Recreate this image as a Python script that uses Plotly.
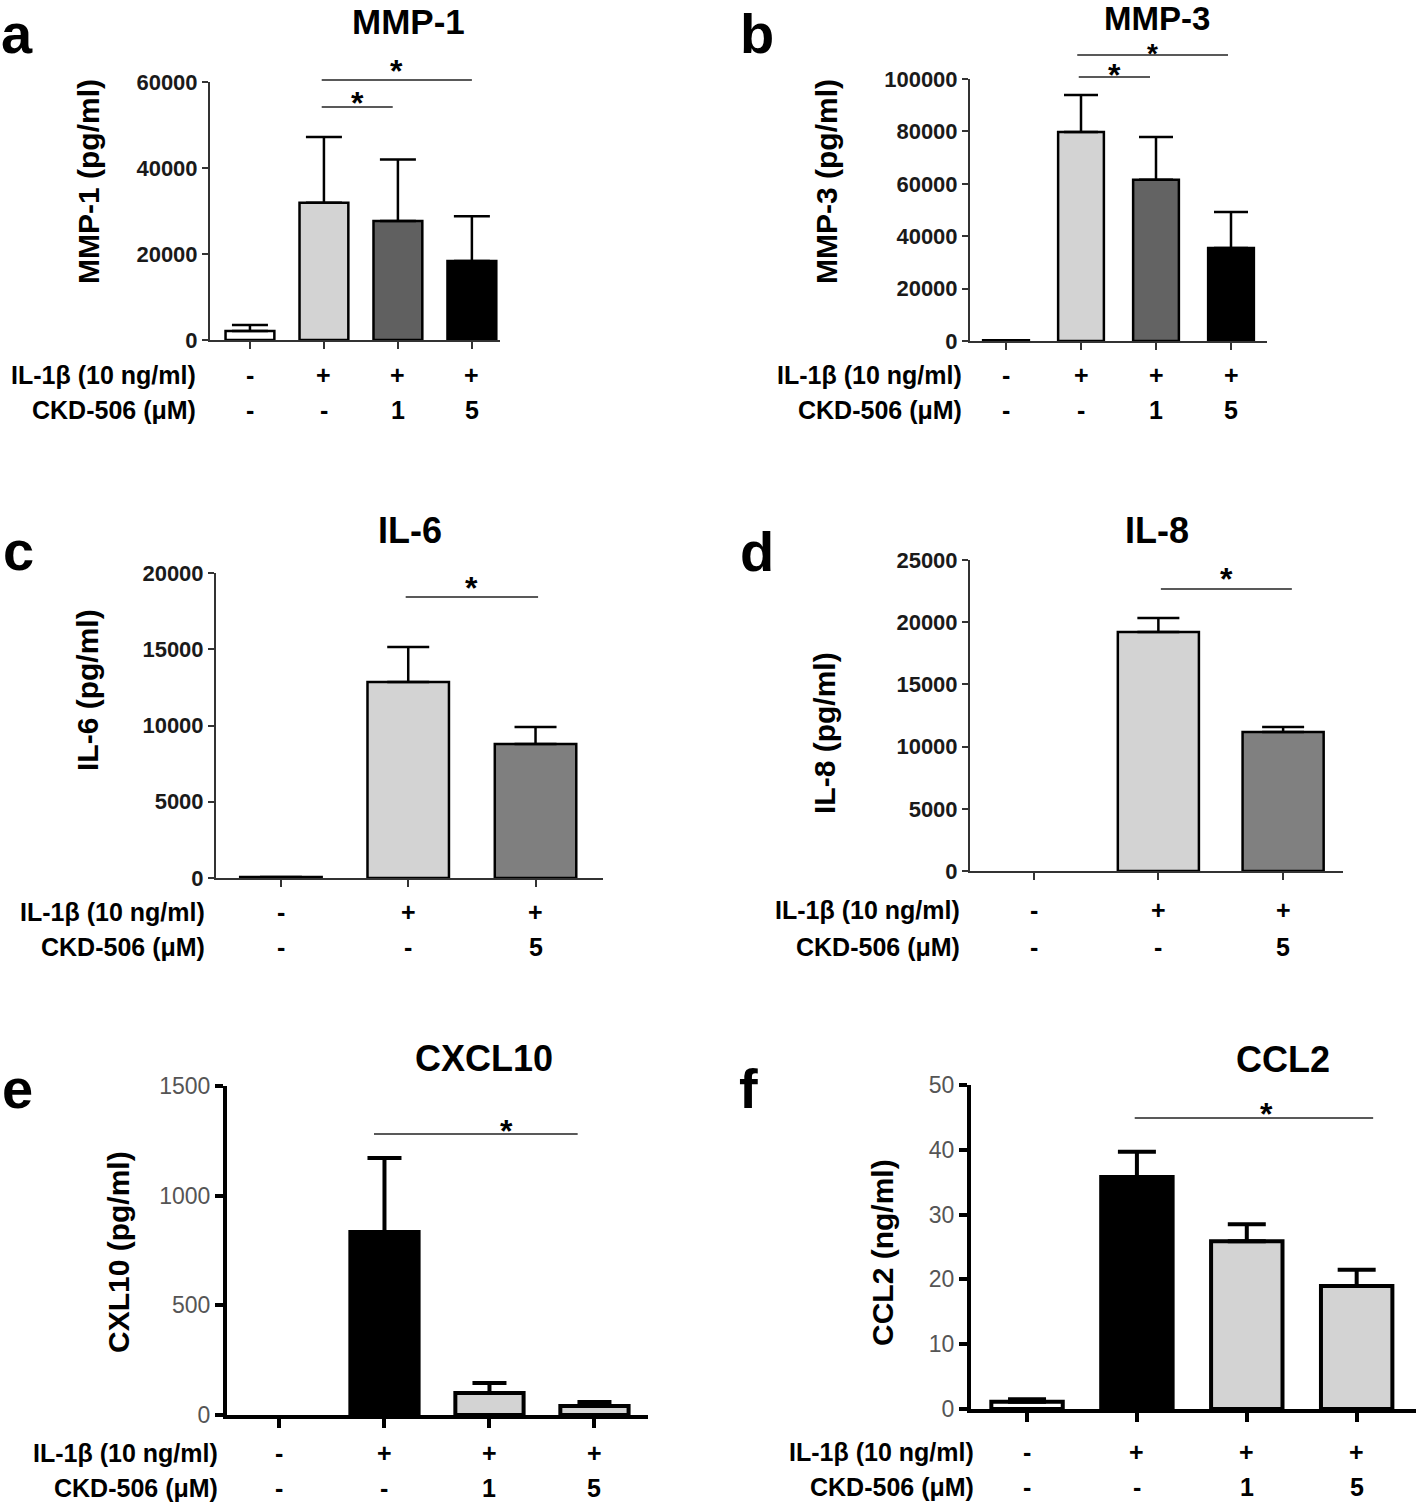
import plotly.graph_objects as go

W, H = 1418, 1504
FONT = "Liberation Sans, Arial, Helvetica, sans-serif"

# ---------------- data ----------------
groups4 = ["Control", "IL-1β", "IL-1β + CKD-506 1 μM", "IL-1β + CKD-506 5 μM"]
groups3 = ["Control", "IL-1β", "IL-1β + CKD-506 5 μM"]
il1b_row4 = ["-", "+", "+", "+"]
ckd_row4 = ["-", "-", "1", "5"]
il1b_row3 = ["-", "+", "+"]
ckd_row3 = ["-", "-", "5"]
row_header_il1b = "IL-1β (10 ng/ml)"
row_header_ckd = "CKD-506 (μM)"

mmp1_mean = [2100, 31900, 27700, 18400]
mmp1_sd = [1400, 15300, 14300, 10400]
mmp3_mean = [300, 79800, 61500, 35500]
mmp3_sd = [None, 14100, 16400, 13700]
il6_mean = [60, 12850, 8790]
il6_sd = [None, 2300, 1110]
il8_mean = [None, 19210, 11170]
il8_sd = [None, 1130, 410]
cxcl10_mean = [None, 834, 100, 41]
cxcl10_sd = [None, 338, 46, 18]
ccl2_mean = [1.1, 35.8, 25.9, 19.0]
ccl2_sd = [0.4, 3.9, 2.6, 2.5]

# ---------------- layout / style ----------------
def PX(x):
    return x / W


def PY(y):
    return 1 - y / H


STYLE_OLD = dict(axis_color="#333333", axis_w=2, tick_len=7, tick_font=dict(family=FONT, size=22, color="#1a1a1a", weight="bold"),
                 bar_line=2.5, err_w=2.5)
STYLE_NEW = dict(axis_color="#000000", axis_w=4, tick_len=9, tick_font=dict(family=FONT, size=23, color="#555555"),
                 bar_line=4, err_w=4)

# sig entries: (from idx, to idx, line y px, star centre y px, start shift, end shift, star shift, star size)
panels = [
    dict(letter="a", title="MMP-1", ytitle="MMP-1 (pg/ml)", cats=groups4, mean=mmp1_mean, sd=mmp1_sd,
         il=il1b_row4, ckd=ckd_row4, ymax=60000, dtick=20000,
         colors=["#ffffff", "#d3d3d3", "#606060", "#000000"], style=STYLE_OLD,
         xpx=(210, 500), ypx=(82, 340), xr=(-0.54, 3.38), bw=0.66, cap=18,
         letter_pos=(17, 33), title_pos=(408, 21), title_size=35, ytitle_pos=(88, 182), hdr_right=198, rows_y=(375, 410),
         sig=[(1, 3, 80, 65, -0.03, 0.0, 0.0, 32), (1, 2, 107, 97, -0.03, -0.07, 0.0, 32)]),
    dict(letter="b", title="MMP-3", ytitle="MMP-3 (pg/ml)", cats=groups4, mean=mmp3_mean, sd=mmp3_sd,
         il=il1b_row4, ckd=ckd_row4, ymax=100000, dtick=20000,
         colors=["#ffffff", "#d3d3d3", "#636363", "#000000"], style=STYLE_OLD,
         xpx=(970, 1267), ypx=(79, 341), xr=(-0.48, 3.48), bw=0.61, cap=17,
         letter_pos=(757, 33), title_pos=(1157, 18.5), title_size=33, ytitle_pos=(826, 182), hdr_right=964, rows_y=(375, 410),
         sig=[(1, 3, 55, 48, -0.05, -0.04, 0.0, 28), (1, 2, 77, 69, -0.03, -0.08, 0.0, 32)]),
    dict(letter="c", title="IL-6", ytitle="IL-6 (pg/ml)", cats=groups3, mean=il6_mean, sd=il6_sd,
         il=il1b_row3, ckd=ckd_row3, ymax=20000, dtick=5000,
         colors=["#ffffff", "#d3d3d3", "#7f7f7f"], style=STYLE_OLD,
         xpx=(216, 603), ypx=(573, 878), xr=(-0.51, 2.53), bw=0.64, cap=21,
         letter_pos=(18, 550), title_pos=(410, 530), title_size=36, ytitle_pos=(88, 690), hdr_right=207, rows_y=(912, 947),
         sig=[(1, 2, 597, 582, -0.02, 0.02, 0.0, 32)]),
    dict(letter="d", title="IL-8", ytitle="IL-8 (pg/ml)", cats=groups3, mean=il8_mean, sd=il8_sd,
         il=il1b_row3, ckd=ckd_row3, ymax=25000, dtick=5000,
         colors=["#ffffff", "#d3d3d3", "#808080"], style=STYLE_OLD,
         xpx=(970, 1343), ypx=(560, 871), xr=(-0.51, 2.48), bw=0.65, cap=21,
         letter_pos=(757, 551), title_pos=(1157, 530), title_size=36, ytitle_pos=(825, 733), hdr_right=962, rows_y=(910, 947),
         sig=[(1, 2, 589, 573, 0.02, 0.07, 0.0, 32)]),
    dict(letter="e", title="CXCL10", ytitle="CXL10 (pg/ml)", cats=groups4, mean=cxcl10_mean, sd=cxcl10_sd,
         il=il1b_row4, ckd=ckd_row4, ymax=1500, dtick=500,
         colors=["#ffffff", "#000000", "#d3d3d3", "#d3d3d3"], style=STYLE_NEW,
         xpx=(227, 648), ypx=(1086, 1415), xr=(-0.5, 3.51), bw=0.65, cap=17,
         letter_pos=(17, 1088), title_pos=(484, 1058), title_size=36, ytitle_pos=(118, 1252), hdr_right=220, rows_y=(1453, 1488),
         sig=[(1, 3, 1134, 1125, -0.1, -0.16, 0.29, 32)]),
    dict(letter="f", title="CCL2", ytitle="CCL2 (ng/ml)", cats=groups4, mean=ccl2_mean, sd=ccl2_sd,
         il=il1b_row4, ckd=ckd_row4, ymax=50, dtick=10,
         colors=["#ffffff", "#000000", "#d3d3d3", "#d3d3d3"], style=STYLE_NEW,
         xpx=(971, 1416), ypx=(1085, 1409), xr=(-0.51, 3.54), bw=0.65, cap=19,
         letter_pos=(749, 1088), title_pos=(1283, 1059), title_size=36, ytitle_pos=(882, 1253), hdr_right=976, rows_y=(1452, 1487),
         sig=[(1, 3, 1118, 1108, -0.02, 0.15, 0.11, 32)]),
]

fig = go.Figure()
layout = dict(width=W, height=H, autosize=False,
              margin=dict(l=0, r=0, t=0, b=0, pad=0, autoexpand=False), paper_bgcolor="white",
              plot_bgcolor="white", showlegend=False, font=dict(family=FONT, color="black"))
annotations = []
shapes = []

for i, p in enumerate(panels, start=1):
    st = p["style"]
    xa, ya = f"x{i}", f"y{i}"
    xkey, ykey = f"xaxis{i}", f"yaxis{i}"
    fig.add_trace(go.Bar(
        x=p["cats"], y=p["mean"], width=p["bw"], xaxis=xa, yaxis=ya,
        marker=dict(color=p["colors"], line=dict(color="black", width=st["bar_line"])),
        error_y=dict(type="data", symmetric=False, array=p["sd"], arrayminus=[0] * len(p["sd"]),
                     color="black", thickness=st["err_w"], width=p["cap"]),
        cliponaxis=False, showlegend=False,
    ))
    layout[xkey] = dict(domain=[PX(p["xpx"][0]), PX(p["xpx"][1])], anchor=ya, type="category",
                        categoryorder="array", categoryarray=p["cats"], automargin=False,
                        range=list(p["xr"]), showgrid=False, zeroline=False,
                        showline=True, linecolor=st["axis_color"], linewidth=st["axis_w"],
                        ticks="outside", ticklen=st["tick_len"], tickwidth=st["axis_w"], tickcolor=st["axis_color"],
                        showticklabels=False, fixedrange=True)
    layout[ykey] = dict(domain=[PY(p["ypx"][1]), PY(p["ypx"][0])], anchor=xa, automargin=False,
                        range=[0, p["ymax"]], dtick=p["dtick"], tick0=0, tickformat="d",
                        showgrid=False, zeroline=False,
                        showline=True, linecolor=st["axis_color"], linewidth=st["axis_w"],
                        ticks="outside", ticklen=st["tick_len"] - 1, tickwidth=st["axis_w"], tickcolor=st["axis_color"],
                        tickfont=st["tick_font"], fixedrange=True)

    # panel letter
    annotations.append(dict(text=p["letter"], x=PX(p["letter_pos"][0]), y=PY(p["letter_pos"][1]),
                            xref="paper", yref="paper", xanchor="center", yanchor="middle", showarrow=False,
                            font=dict(family=FONT, size=56, color="black", weight="bold")))
    # title
    annotations.append(dict(text=p["title"], x=PX(p["title_pos"][0]), y=PY(p["title_pos"][1]),
                            xref="paper", yref="paper", xanchor="center", yanchor="middle", showarrow=False,
                            font=dict(family=FONT, size=p["title_size"], color="black", weight="bold")))
    # y title
    annotations.append(dict(text=p["ytitle"], x=PX(p["ytitle_pos"][0]), y=PY(p["ytitle_pos"][1]),
                            xref="paper", yref="paper", xanchor="center", yanchor="middle", showarrow=False,
                            textangle=-90, font=dict(family=FONT, size=30, color="black", weight="bold")))
    # treatment rows
    lab_font = dict(family=FONT, size=25, color="black", weight="bold")
    for header, row, yy in ((row_header_il1b, p["il"], p["rows_y"][0]), (row_header_ckd, p["ckd"], p["rows_y"][1])):
        annotations.append(dict(text=header, x=PX(p["hdr_right"]), y=PY(yy), xref="paper", yref="paper",
                                xanchor="right", yanchor="middle", showarrow=False, font=lab_font))
        for cat, sym in zip(p["cats"], row):
            annotations.append(dict(text=sym, x=cat, y=PY(yy), xref=xa, yref="paper",
                                    xanchor="center", yanchor="middle", showarrow=False, font=lab_font))
    # significance brackets
    for (i0, i1, ly, sy, d0, d1, sdx, ssz) in p["sig"]:
        x0, x1 = i0 + d0, i1 + d1
        shapes.append(dict(type="line", xref=xa, yref="paper", x0=x0, x1=x1, y0=PY(ly), y1=PY(ly),
                           line=dict(color="#222222", width=1.6)))
        annotations.append(dict(text="*", x=(x0 + x1) / 2 + sdx, y=PY(sy + 0.2 * ssz), xref=xa, yref="paper",
                                xanchor="center", yanchor="middle", showarrow=False,
                                font=dict(family=FONT, size=ssz, color="black", weight="bold")))

layout["annotations"] = annotations
layout["shapes"] = shapes
fig.update_layout(**layout)

fig.write_html("out.html", config={"displayModeBar": False},
               post_script="document.body.style.margin='0';")
